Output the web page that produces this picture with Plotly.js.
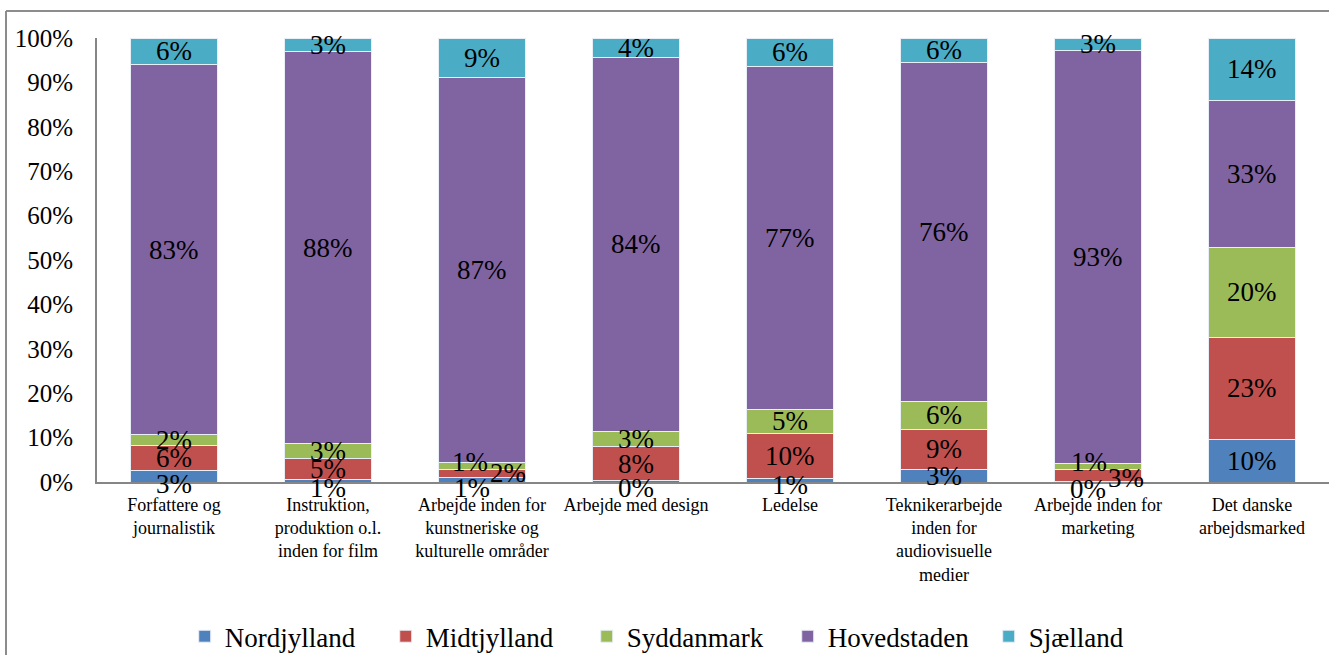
<!DOCTYPE html>
<html>
<head>
<meta charset="utf-8">
<script src="https://cdn.plot.ly/plotly-3.0.1.min.js"></script>
<style>
  html, body { margin: 0; padding: 0; background: #fff; }
  #chart { width: 1329px; height: 655px; }
</style>
</head>
<body>
<div id="chart"></div>
<script>
// Categories (x-axis labels)
var categories = [
  "Forfattere og<br>journalistik",
  "Instruktion,<br>produktion o.l.<br>inden for film",
  "Arbejde inden for<br>kunstneriske og<br>kulturelle områder",
  "Arbejde med design",
  "Ledelse",
  "Teknikerarbejde<br>inden for<br>audiovisuelle<br>medier",
  "Arbejde inden for<br>marketing",
  "Det danske<br>arbejdsmarked"
];

// Shares (fractions) per region
var nordjylland = [0.026, 0.006, 0.011, 0.003, 0.007, 0.029, 0.002, 0.096];
var midtjylland = [0.057, 0.048, 0.018, 0.077, 0.103, 0.090, 0.026, 0.230];
var syddanmark  = [0.024, 0.032, 0.014, 0.033, 0.054, 0.062, 0.013, 0.203];
var hovedstaden = [0.833, 0.883, 0.868, 0.844, 0.772, 0.763, 0.930, 0.330];
var sjaelland   = [0.060, 0.031, 0.089, 0.043, 0.064, 0.056, 0.029, 0.141];

var seriesNames  = ["Nordjylland", "Midtjylland", "Syddanmark", "Hovedstaden", "Sjælland"];
var seriesValues = [nordjylland, midtjylland, syddanmark, hovedstaden, sjaelland];
var seriesColors = ["#4F81BD", "#C0504D", "#9BBB59", "#8064A2", "#4BACC6"];

var yTickVals  = [0, 0.1, 0.2, 0.3, 0.4, 0.5, 0.6, 0.7, 0.8, 0.9, 1.0];
var yTickTexts = ["0%", "10%", "20%", "30%", "40%", "50%", "60%", "70%", "80%", "90%", "100%"];

// Pixel nudges for crowded data labels ("category-series": [dx, dy])
var labelNudge = {
  "0-0": [0, -8],
  "1-0": [0, -7],
  "2-0": [-10, -8], "2-1": [26, 0], "2-2": [-12, 4],
  "3-0": [0, -7],
  "4-0": [0, -5],
  "6-0": [-10, -7], "6-1": [28, -3], "6-2": [-9, 5]
};

var FONT = "Liberation Serif";

var traces = seriesNames.map(function (name, i) {
  return {
    type: "bar",
    name: name,
    x: categories,
    y: seriesValues[i],
    marker: { color: seriesColors[i], line: { color: "#e8eef6", width: 1 } },
    hoverinfo: "none"
  };
});

// Data labels as annotations at the middle of each stacked segment
var annotations = [];
categories.forEach(function (cat, c) {
  var base = 0;
  seriesValues.forEach(function (vals, s) {
    var v = vals[c];
    var nudge = labelNudge[c + "-" + s] || [0, 0];
    annotations.push({
      x: cat, y: base + v / 2, xref: "x", yref: "y",
      text: Math.round(v * 100) + "%",
      showarrow: false,
      xanchor: "center", yanchor: "middle",
      xshift: nudge[0], yshift: nudge[1],
      font: { family: FONT, size: 27, color: "#000" }
    });
    base += v;
  });
});

var layout = {
  width: 1329,
  height: 655,
  margin: { l: 97, r: 0, t: 38, b: 173, pad: 0 },
  paper_bgcolor: "#fff",
  plot_bgcolor: "#fff",
  barmode: "stack",
  bargap: 0.435,
  font: { family: FONT, color: "#000" },
  showlegend: true,
  legend: {
    orientation: "h",
    traceorder: "normal",
    xref: "container", yref: "container",
    x: 0.139, xanchor: "left",
    y: 0.028, yanchor: "middle",
    font: { family: FONT, size: 27, color: "#000" },
    entrywidth: 156, entrywidthmode: "pixels",
    itemwidth: 30,
    bgcolor: "rgba(0,0,0,0)"
  },
  xaxis: {
    type: "category",
    showgrid: false,
    zeroline: false,
    showline: true,
    linecolor: "#868686",
    linewidth: 2,
    ticks: "",
    tickangle: 0,
    ticklabelstandoff: 5,
    tickfont: { family: FONT, size: 18, color: "#000" },
    automargin: false
  },
  yaxis: {
    range: [0, 1],
    tickvals: yTickVals,
    ticktext: yTickTexts,
    showgrid: false,
    zeroline: false,
    showline: true,
    linecolor: "#868686",
    linewidth: 2,
    ticks: "",
    ticklabelstandoff: 17,
    tickfont: { family: FONT, size: 25, color: "#000" },
    automargin: false,
    fixedrange: true
  },
  annotations: annotations,
  shapes: [
    { type: "line", xref: "paper", yref: "paper",
      x0: (6 - 97) / 1232, x1: 1.05, y0: (482 - 11) / 444, y1: (482 - 11) / 444,
      line: { color: "#8c8c8c", width: 2 } },
    { type: "line", xref: "paper", yref: "paper",
      x0: (6 - 97) / 1232, x1: (6 - 97) / 1232, y0: (482 - 11) / 444, y1: -0.5,
      line: { color: "#8c8c8c", width: 2 } }
  ]
};

Plotly.newPlot("chart", traces, layout, { displayModeBar: false, staticPlot: true });
</script>
</body>
</html>
